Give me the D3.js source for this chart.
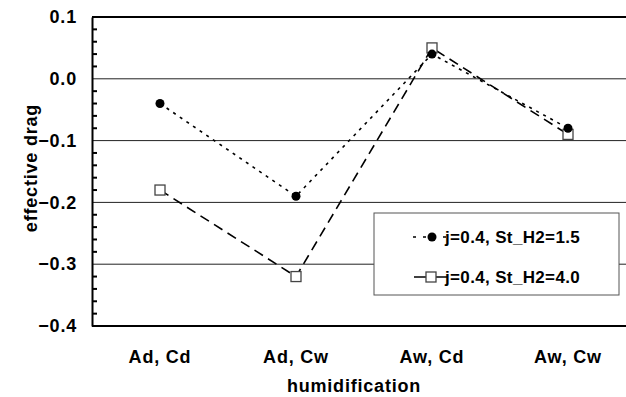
<!DOCTYPE html>
<html><head><meta charset="utf-8">
<script src="https://cdn.jsdelivr.net/npm/d3@7"></script>
<style>body{margin:0;background:#fff}svg{display:block}text{font-family:"Liberation Sans",Arial,sans-serif;font-weight:bold}</style>
</head><body>
<script>
const categories = ["Ad, Cd", "Ad, Cw", "Aw, Cd", "Aw, Cw"];
const seriesNames = ["j=0.4, St_H2=1.5", "j=0.4, St_H2=4.0"];
const series1 = [-0.04, -0.19, 0.04, -0.08];
const series2 = [-0.18, -0.32, 0.05, -0.09];
const yTicks = [0.1, 0.0, -0.1, -0.2, -0.3, -0.4];

const W = 626, H = 397;
const m = {left: 92, top: 17, right: -10, bottom: 71};
const svg = d3.select("body").append("svg").attr("width", W).attr("height", H);
const x = d3.scaleBand().domain(categories).range([m.left, W - m.right]);
const y = d3.scaleLinear().domain([-0.4, 0.1]).range([H - m.bottom, m.top]);
const cx = d => x(d) + x.bandwidth() / 2;
const FS = 18, LS = 0.8;

// gridlines
svg.append("g").selectAll("line").data([0.0, -0.1, -0.2, -0.3]).join("line")
  .attr("x1", m.left).attr("x2", W).attr("y1", d => y(d)).attr("y2", d => y(d))
  .attr("stroke", "#222").attr("stroke-width", 1);

// frame
svg.append("line").attr("x1", m.left).attr("x2", W).attr("y1", y(0.1)).attr("y2", y(0.1)).attr("stroke", "#000").attr("stroke-width", 2);
svg.append("line").attr("x1", m.left).attr("x2", W).attr("y1", y(-0.4)).attr("y2", y(-0.4)).attr("stroke", "#000").attr("stroke-width", 2);

// y axis
const yAxis = d3.axisLeft(y).tickValues(yTicks).tickFormat(d3.format(".1f")).tickSize(0).tickPadding(15);
const gy = svg.append("g").attr("transform", `translate(${m.left},0)`).call(yAxis);
gy.select(".domain").attr("stroke", "#000").attr("stroke-width", 2);
gy.selectAll("text").attr("font-size", FS).attr("letter-spacing", LS).attr("font-family", "Liberation Sans, Arial, sans-serif").attr("font-weight", "bold").attr("fill", "#000");
// minor ticks
const minor = d3.range(-0.38, 0.1, 0.02).filter(v => Math.abs(Math.round(v * 10) - v * 10) > 0.05);
svg.append("g").selectAll("line").data(minor).join("line")
  .attr("x1", m.left).attr("x2", m.left + 5).attr("y1", d => y(d)).attr("y2", d => y(d))
  .attr("stroke", "#000").attr("stroke-width", 2);

// x axis labels
const xAxis = d3.axisBottom(x).tickSize(0).tickPadding(24);
const gx = svg.append("g").attr("transform", `translate(0,${H - m.bottom})`).call(xAxis);
gx.select(".domain").remove();
gx.selectAll("text").attr("font-size", FS).attr("letter-spacing", LS).attr("font-family", "Liberation Sans, Arial, sans-serif").attr("font-weight", "bold").attr("fill", "#000");

// titles
svg.append("text").attr("x", 354).attr("y", 392).attr("text-anchor", "middle").attr("font-size", FS).attr("letter-spacing", LS).text("humidification");
svg.append("text").attr("transform", "translate(37,168) rotate(-90)").attr("text-anchor", "middle").attr("font-size", FS).attr("letter-spacing", LS).text("effective drag");

const line = d3.line().x((d, i) => cx(categories[i])).y(d => y(d));
svg.append("path").datum(series1).attr("d", line).attr("fill", "none").attr("stroke", "#000").attr("stroke-width", 1.6).attr("stroke-dasharray", "3,5");
svg.append("path").datum(series2).attr("d", line).attr("fill", "none").attr("stroke", "#000").attr("stroke-width", 1.6).attr("stroke-dasharray", "10,6");

svg.append("g").selectAll("rect").data(series2).join("rect")
  .attr("x", (d, i) => cx(categories[i]) - 5).attr("y", d => y(d) - 5).attr("width", 10).attr("height", 10)
  .attr("fill", "#fff").attr("stroke", "#444").attr("stroke-width", 1.3);
svg.append("g").selectAll("circle").data(series1).join("circle")
  .attr("cx", (d, i) => cx(categories[i])).attr("cy", d => y(d)).attr("r", 4.5).attr("fill", "#000");

// legend
const lg = svg.append("g");
lg.append("rect").attr("x", 374).attr("y", 213).attr("width", 245).attr("height", 82).attr("fill", "#fff").attr("stroke", "#555").attr("stroke-width", 1);
lg.append("line").attr("x1", 413).attr("x2", 447).attr("y1", 237).attr("y2", 237).attr("stroke", "#000").attr("stroke-width", 1.6).attr("stroke-dasharray", "3,7");
lg.append("circle").attr("cx", 432).attr("cy", 237).attr("r", 4.5).attr("fill", "#000");
lg.append("text").attr("x", 445).attr("y", 243).attr("font-size", 17).attr("letter-spacing", 0.35).text(seriesNames[0]);
lg.append("line").attr("x1", 414).attr("x2", 447).attr("y1", 277).attr("y2", 277).attr("stroke", "#000").attr("stroke-width", 1.6);
lg.append("rect").attr("x", 426).attr("y", 272).attr("width", 10).attr("height", 10).attr("fill", "#fff").attr("stroke", "#444").attr("stroke-width", 1.3);
lg.append("text").attr("x", 445).attr("y", 283).attr("font-size", 17).attr("letter-spacing", 0.35).text(seriesNames[1]);
</script>
</body></html>
